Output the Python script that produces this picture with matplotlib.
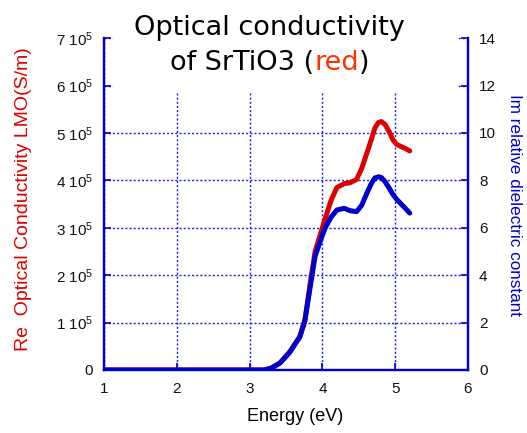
import matplotlib
matplotlib.use("Agg")
import matplotlib.pyplot as plt
from matplotlib.patches import Rectangle
from matplotlib.ticker import FuncFormatter

# ---------------- data ----------------
energy = [1.0, 3.2, 3.3, 3.42, 3.55, 3.69, 3.76, 3.83, 3.90, 3.99, 4.04, 4.12,
          4.20, 4.30, 4.38, 4.47, 4.54, 4.61, 4.67, 4.72, 4.77, 4.81, 4.86,
          4.92, 4.97, 5.02, 5.07, 5.13, 5.20]
# Re optical conductivity, units of 1e5 S/m (left axis)
re_sigma = [0, 0, 0.04, 0.15, 0.38, 0.70, 1.05, 1.80, 2.50, 2.95, 3.20, 3.58,
            3.85, 3.93, 3.95, 4.02, 4.25, 4.57, 4.85, 5.10, 5.22, 5.24, 5.18,
            5.02, 4.85, 4.76, 4.72, 4.68, 4.62]
# Im relative dielectric constant (right axis)
im_eps = [0, 0, 0.08, 0.30, 0.74, 1.40, 2.08, 3.45, 4.80, 5.60, 6.00, 6.45,
          6.75, 6.82, 6.72, 6.68, 6.95, 7.45, 7.85, 8.10, 8.15, 8.12, 7.95,
          7.66, 7.40, 7.20, 7.04, 6.85, 6.62]

x_ticks = [1, 2, 3, 4, 5, 6]
left_ticks = [0, 1, 2, 3, 4, 5, 6, 7]
right_ticks = [0, 2, 4, 6, 8, 10, 12, 14]

RED = "#dd0000"
BLUE = "#0000cc"
GRID = "#1a1aee"

plt.rcParams["font.family"] = ["Liberation Sans", "DejaVu Sans"]
plt.rcParams["mathtext.fontset"] = "custom"
plt.rcParams["mathtext.rm"] = "Liberation Sans"
plt.rcParams["mathtext.it"] = "Liberation Sans"

fig = plt.figure(figsize=(5.27, 4.33), dpi=100)
ax1 = fig.add_axes([0.1973, 0.1455, 0.6907, 0.7665])
ax2 = ax1.twinx()

ax1.plot(energy, [v * 1e5 for v in re_sigma], color=RED, lw=3.6,
         solid_capstyle="round", solid_joinstyle="round")
ax2.plot(energy, im_eps, color=BLUE, lw=3.6,
         solid_capstyle="round", solid_joinstyle="round")

ax1.set_xlim(1, 6)
ax1.set_ylim(0, 7e5)
ax2.set_ylim(0, 14)
ax1.set_xticks(x_ticks)
ax1.set_yticks([t * 1e5 for t in left_ticks])
ax2.set_yticks(right_ticks)

def fmt_left(v, pos):
    n = int(round(v / 1e5))
    return "0" if n == 0 else r"%d 10$^5$" % n

ax1.yaxis.set_major_formatter(FuncFormatter(fmt_left))

ax1.grid(True, color=GRID, linestyle=(0, (1.5, 1.5)), linewidth=1.0)
for ax in (ax1, ax2):
    for s in ("left", "right", "bottom"):
        ax.spines[s].set_color(BLUE)
        ax.spines[s].set_linewidth(1.6)
    ax.spines["top"].set_visible(False)
    ax.tick_params(direction="in", length=5, width=1.2, color=BLUE,
                   labelsize=11, labelcolor="#111111", pad=8)
ax1.tick_params(axis="x", pad=9)

ax1.set_xlabel("Energy (eV)", fontsize=13, va="top")
ax1.xaxis.set_label_coords(0.525, -0.114)
ax1.set_ylabel("Re  Optical Conductivity LMO(S/m)", color=RED, fontsize=14,
               va="center")
ax1.yaxis.set_label_coords(-0.22, 0.515)
ax2.set_ylabel("Im relative dielectric constant", color=BLUE, fontsize=12.3,
               rotation=270, va="center")
ax2.yaxis.set_label_coords(1.129, 0.497)

# white box behind the title (hides the top grid lines)
fig.patches.append(Rectangle((0.215, 0.785), 0.655, 0.215, transform=fig.transFigure,
                             facecolor="white", edgecolor="none", zorder=2.5))

tkw = dict(fontsize=19.5, family=["DejaVu Sans"], va="center", zorder=3)
fig.text(0.512, 0.935, "Optical conductivity", ha="center", color="black", **tkw)

renderer = fig.canvas.get_renderer()
parts = [("of SrTiO3 (", "black"), ("red", "#ff3300"), (")", "black")]
widths = []
for s, c in parts:
    t = fig.text(0, 0, s, **tkw)
    widths.append(t.get_window_extent(renderer).width / fig.bbox.width)
    t.remove()
x0 = 0.512 - sum(widths) / 2
for (s, c), w in zip(parts, widths):
    fig.text(x0, 0.855, s, ha="left", color=c, **tkw)
    x0 += w

fig.savefig("out.png", dpi=100)
